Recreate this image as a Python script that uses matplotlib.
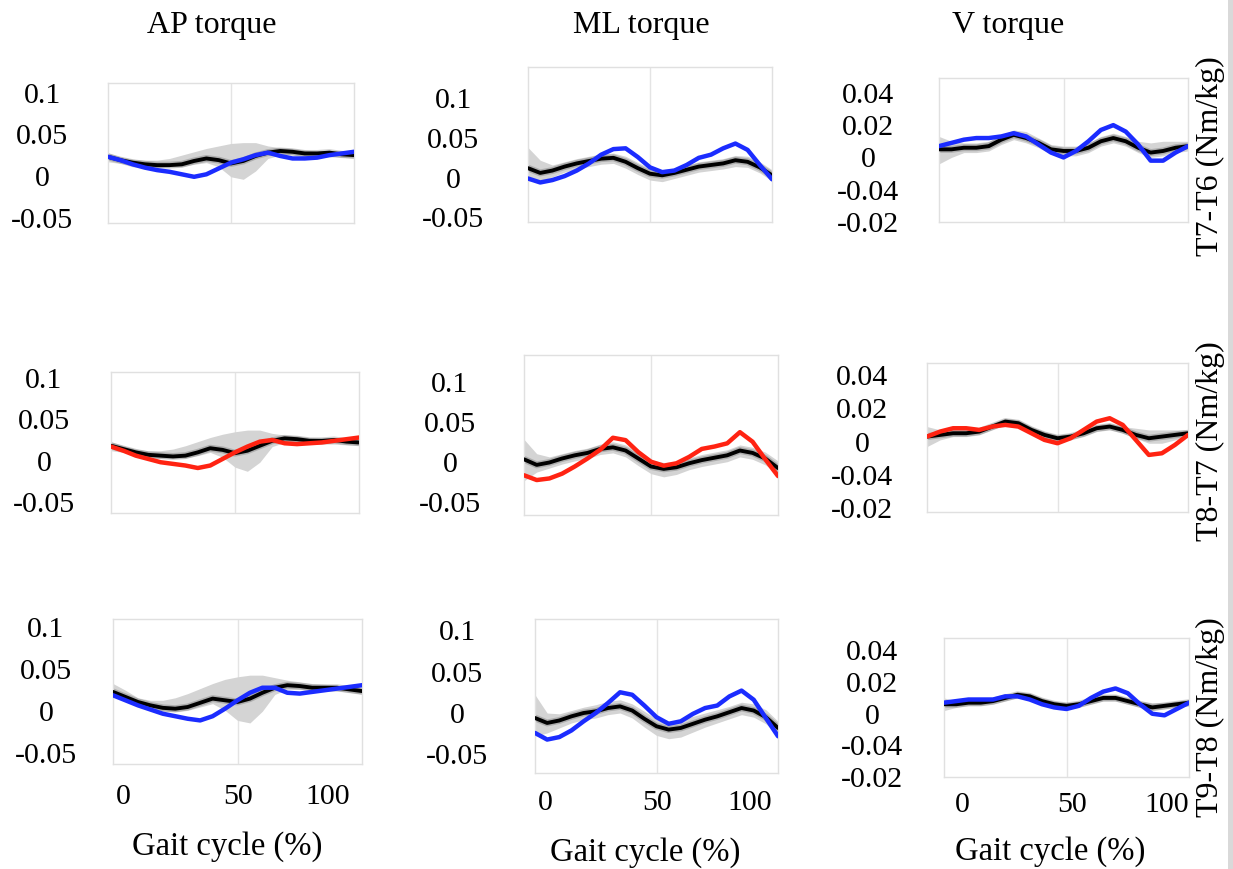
import matplotlib
matplotlib.use("Agg")
import matplotlib.pyplot as plt
from matplotlib.patches import Rectangle
import numpy as np

plt.rcParams['font.family'] = ['Liberation Serif', 'DejaVu Serif']

# gait cycle samples (%)
gait = [0, 5, 10, 15, 20, 25, 30, 35, 40, 45, 50, 55, 60, 65, 70, 75, 80, 85, 90, 95, 100]

col_titles = ["AP torque", "ML torque", "V torque"]
row_labels = ["T7-T6 (Nm/kg)", "T8-T7 (Nm/kg)", "T9-T8 (Nm/kg)"]
xlabel = "Gait cycle (%)"

ap_ticks = [0.1, 0.05, 0, -0.05]
ap_ticklabels = ["0.1", "0.05", "0", "-0.05"]
v_ticks = [0.04, 0.02, 0, -0.02, -0.04]
v_ticklabels = ["0.04", "0.02", "0", "-0.04", "-0.02"]
x_ticklabels = ["0", "50", "100"]

# ---- AP torque ----
ap1_mean = [0.023,0.019,0.016,0.014,0.013,0.013,0.014,0.018,0.021,0.019,0.015,0.018,0.024,0.028,0.030,0.029,0.027,0.027,0.028,0.026,0.025]
ap1_subj = [0.023,0.019,0.014,0.010,0.007,0.005,0.002,-0.001,0.002,0.009,0.016,0.020,0.025,0.028,0.024,0.021,0.021,0.022,0.025,0.027,0.029]
ap1_lo = [0.017,0.015,0.011,0.010,0.010,0.011,0.011,0.014,0.016,0.011,-0.001,-0.004,0.006,0.021,0.025,0.025,0.023,0.023,0.023,0.022,0.021]
ap1_hi = [0.028,0.023,0.020,0.019,0.019,0.021,0.025,0.029,0.033,0.036,0.039,0.040,0.040,0.036,0.034,0.033,0.031,0.030,0.030,0.030,0.029]

ap2_mean = [0.018,0.014,0.010,0.007,0.006,0.005,0.006,0.010,0.015,0.013,0.009,0.012,0.018,0.024,0.027,0.026,0.024,0.024,0.025,0.023,0.022]
ap2_subj = [0.017,0.012,0.006,0.002,-0.002,-0.004,-0.006,-0.009,-0.006,0.002,0.010,0.017,0.023,0.025,0.021,0.020,0.021,0.022,0.024,0.026,0.028]
ap2_lo = [0.012,0.010,0.006,0.003,0.003,0.003,0.003,0.006,0.010,0.004,-0.008,-0.013,-0.002,0.017,0.022,0.022,0.020,0.020,0.020,0.019,0.018]
ap2_hi = [0.023,0.018,0.014,0.012,0.012,0.014,0.018,0.023,0.028,0.032,0.035,0.037,0.037,0.033,0.031,0.030,0.028,0.027,0.027,0.026,0.026]

ap3_mean = [0.023,0.017,0.011,0.007,0.004,0.003,0.005,0.010,0.015,0.013,0.011,0.015,0.022,0.028,0.031,0.030,0.028,0.028,0.028,0.026,0.024]
ap3_subj = [0.019,0.013,0.007,0.002,-0.003,-0.006,-0.009,-0.011,-0.006,0.003,0.013,0.022,0.028,0.028,0.022,0.021,0.023,0.025,0.027,0.029,0.031]
ap3_lo = [0.017,0.012,0.007,0.003,0.000,-0.001,0.001,0.005,0.009,0.001,-0.011,-0.014,0.000,0.020,0.026,0.026,0.024,0.024,0.024,0.022,0.020]
ap3_hi = [0.033,0.025,0.016,0.013,0.013,0.016,0.021,0.027,0.033,0.038,0.041,0.043,0.043,0.040,0.037,0.035,0.033,0.032,0.031,0.029,0.028]

# ---- ML torque ----
ml1_mean = [0.012,0.006,0.009,0.014,0.018,0.021,0.024,0.025,0.020,0.012,0.005,0.003,0.006,0.010,0.014,0.016,0.018,0.022,0.020,0.013,0.003]
ml1_subj = [-0.001,-0.006,-0.003,0.002,0.009,0.018,0.029,0.036,0.037,0.026,0.013,0.007,0.009,0.016,0.025,0.029,0.037,0.043,0.035,0.016,-0.002]
ml1_lo = [-0.004,-0.004,0.001,0.007,0.011,0.014,0.017,0.018,0.012,0.004,-0.003,-0.005,-0.001,0.003,0.007,0.009,0.011,0.014,0.013,0.006,-0.004]
ml1_hi = [0.038,0.022,0.016,0.020,0.024,0.027,0.030,0.031,0.027,0.019,0.012,0.010,0.012,0.016,0.020,0.022,0.024,0.028,0.027,0.020,0.010]

ml2_mean = [0.003,-0.004,-0.001,0.004,0.008,0.011,0.016,0.018,0.014,0.004,-0.006,-0.009,-0.007,-0.002,0.002,0.005,0.008,0.014,0.011,0.004,-0.008]
ml2_subj = [-0.017,-0.023,-0.021,-0.015,-0.006,0.004,0.015,0.030,0.027,0.012,0.000,-0.005,-0.002,0.006,0.016,0.019,0.023,0.037,0.025,0.003,-0.018]
ml2_lo = [-0.024,-0.013,-0.008,-0.003,0.001,0.004,0.009,0.011,0.006,-0.005,-0.015,-0.019,-0.016,-0.010,-0.006,-0.003,0.000,0.006,0.003,-0.004,-0.015]
ml2_hi = [0.028,0.010,0.006,0.010,0.014,0.017,0.022,0.025,0.021,0.012,0.002,-0.001,0.000,0.005,0.009,0.012,0.015,0.021,0.018,0.012,0.001]

ml3_mean = [-0.006,-0.012,-0.009,-0.004,0.000,0.002,0.006,0.008,0.003,-0.007,-0.016,-0.020,-0.018,-0.013,-0.008,-0.004,0.001,0.006,0.003,-0.005,-0.018]
ml3_subj = [-0.024,-0.032,-0.029,-0.021,-0.010,0.000,0.012,0.025,0.022,0.009,-0.005,-0.013,-0.010,-0.001,0.006,0.009,0.020,0.027,0.016,-0.006,-0.028]
ml3_lo = [-0.028,-0.024,-0.018,-0.012,-0.008,-0.006,-0.002,0.000,-0.006,-0.017,-0.027,-0.031,-0.029,-0.023,-0.017,-0.012,-0.007,-0.002,-0.005,-0.013,-0.026]
ml3_hi = [0.022,0.000,-0.001,0.003,0.007,0.010,0.014,0.016,0.011,0.002,-0.007,-0.010,-0.008,-0.004,0.000,0.004,0.008,0.013,0.011,0.004,-0.010]

# ---- V torque ----
v1_mean = [0.005,0.005,0.006,0.006,0.007,0.011,0.014,0.012,0.009,0.005,0.004,0.004,0.006,0.010,0.012,0.010,0.006,0.003,0.004,0.006,0.007]
v1_subj = [0.007,0.009,0.011,0.012,0.012,0.013,0.015,0.013,0.008,0.003,0.000,0.004,0.010,0.017,0.020,0.016,0.008,-0.002,-0.002,0.003,0.007]
v1_lo = [-0.004,0.000,0.003,0.003,0.004,0.008,0.011,0.009,0.006,0.002,0.001,0.001,0.003,0.007,0.009,0.007,0.003,0.000,0.001,0.003,0.004]
v1_hi = [0.013,0.010,0.009,0.009,0.010,0.014,0.017,0.016,0.012,0.008,0.007,0.007,0.009,0.013,0.015,0.013,0.010,0.009,0.010,0.010,0.010]

v2_mean = [0.003,0.004,0.005,0.005,0.006,0.009,0.012,0.011,0.007,0.004,0.002,0.003,0.005,0.008,0.009,0.007,0.004,0.002,0.003,0.004,0.005]
v2_subj = [0.003,0.006,0.008,0.008,0.007,0.009,0.010,0.009,0.005,0.001,-0.001,0.002,0.007,0.012,0.014,0.010,0.001,-0.008,-0.007,-0.002,0.004]
v2_lo = [-0.003,0.001,0.003,0.003,0.004,0.007,0.010,0.009,0.005,0.002,0.000,0.001,0.003,0.006,0.007,0.005,0.002,-0.001,-0.001,0.001,0.003]
v2_hi = [0.009,0.007,0.007,0.007,0.008,0.011,0.014,0.013,0.009,0.006,0.004,0.005,0.007,0.010,0.011,0.009,0.008,0.007,0.007,0.007,0.007]

v3_mean = [0.006,0.006,0.007,0.007,0.008,0.010,0.012,0.011,0.008,0.006,0.005,0.006,0.008,0.010,0.010,0.008,0.006,0.004,0.005,0.006,0.007]
v3_subj = [0.007,0.008,0.009,0.009,0.009,0.011,0.011,0.009,0.006,0.004,0.003,0.005,0.010,0.014,0.016,0.013,0.006,0.000,-0.001,0.003,0.007]
v3_lo = [0.002,0.004,0.005,0.005,0.006,0.008,0.010,0.009,0.006,0.004,0.003,0.004,0.006,0.008,0.008,0.006,0.004,0.002,0.003,0.004,0.005]
v3_hi = [0.010,0.008,0.009,0.009,0.010,0.012,0.014,0.013,0.010,0.008,0.007,0.008,0.010,0.012,0.012,0.010,0.008,0.007,0.007,0.008,0.009]

W, H = 1233, 869
BLUE = "#1b2cff"
RED = "#ff2312"

# panel layout: pixel box (left, top, right, bottom), y limits, gap to tick label centre
panels = [
    # row 1
    ((108, 83, 354, 223), (-0.0564, 0.1115), 66, ap1_mean, ap1_subj, ap1_lo, ap1_hi, BLUE, "ap"),
    ((528, 67, 772, 222), (-0.0558, 0.1394), 75, ml1_mean, ml1_subj, ml1_lo, ml1_hi, BLUE, "ap"),
    ((939, 78, 1188, 222), (-0.0376, 0.0492), 71, v1_mean, v1_subj, v1_lo, v1_hi, BLUE, "v"),
    # row 2
    ((111, 372, 359, 513), (-0.0636, 0.1075), 67, ap2_mean, ap2_subj, ap2_lo, ap2_hi, RED, "ap"),
    ((524, 355, 778, 515), (-0.0668, 0.1337), 74, ml2_mean, ml2_subj, ml2_lo, ml2_hi, RED, "ap"),
    ((927, 363, 1188, 512), (-0.0422, 0.0471), 65, v2_mean, v2_subj, v2_lo, v2_hi, RED, "v"),
    # row 3
    ((113, 619, 362, 764), (-0.0630, 0.1100), 67, ap3_mean, ap3_subj, ap3_lo, ap3_hi, BLUE, "ap"),
    ((535, 619, 778, 773), (-0.0723, 0.1133), 78, ml3_mean, ml3_subj, ml3_lo, ml3_hi, BLUE, "ap"),
    ((944, 638, 1189, 777), (-0.0364, 0.0479), 72, v3_mean, v3_subj, v3_lo, v3_hi, BLUE, "v"),
]
# bottom row x tick label placement (data units) and gap below the box
xtick_pos = [[4.0, 50.2, 86.3], [4.1, 50.2, 88.5], [7.3, 52.2, 91.0]]
xtick_gap = [33, 30, 28]

fig = plt.figure(figsize=(W / 100, H / 100), dpi=100)

for i, (box, ylim, gap, mean, subj, lo, hi, c, kind) in enumerate(panels):
    l, t, r, b = box
    ax = fig.add_axes([l / W, 1 - b / H, (r - l) / W, (b - t) / H])
    ax.fill_between(gait, lo, hi, color="#d4d4d4", lw=0, zorder=1)
    ax.plot(gait, mean, color="black", lw=5, alpha=0.18, zorder=2, solid_joinstyle="round")
    ax.plot(gait, mean, color="black", lw=2.8, zorder=3, solid_capstyle="round", solid_joinstyle="round")
    ax.plot(gait, subj, color=c, lw=3.2, zorder=4, solid_capstyle="round", solid_joinstyle="round")
    ax.axvline(50, color="#e4e4e4", lw=1, zorder=0)
    ax.set_xlim(0, 100)
    ax.set_ylim(*ylim)
    for s in ax.spines.values():
        s.set_color("#e0e0e0")
        s.set_linewidth(1)
    if kind == "ap":
        ax.set_yticks(ap_ticks, ap_ticklabels, fontsize=21.5, ha="center")
    else:
        ax.set_yticks(v_ticks, v_ticklabels, fontsize=21.5, ha="center")
    ax.tick_params(axis="y", length=0, pad=gap * 0.72)
    if i >= 6:
        j = i - 6
        ax.set_xticks(xtick_pos[j], x_ticklabels, fontsize=21.5, va="center")
        ax.tick_params(axis="x", length=0, pad=xtick_gap[j] * 0.72)
    else:
        ax.set_xticks([])

# column titles
for txt, cx in zip(col_titles, [212, 641, 1008]):
    fig.text(cx / W, 1 - 25 / H, txt, ha="center", va="center", fontsize=23)

# x axis labels
for cx, cy in zip([227, 645, 1050], [847, 853, 852]):
    fig.text(cx / W, 1 - cy / H, xlabel, ha="center", va="center", fontsize=23.5)

# row labels on the right
for txt, cy in zip(row_labels, [156, 441, 717]):
    fig.text(1210 / W, 1 - cy / H, txt, ha="center", va="center", rotation=90, fontsize=23)

fig.patches.append(Rectangle((1228 / W, 0), 5 / W, 1, transform=fig.transFigure,
                             facecolor="#d9d9d9", edgecolor="none"))

fig.savefig("out.png", dpi=100)
